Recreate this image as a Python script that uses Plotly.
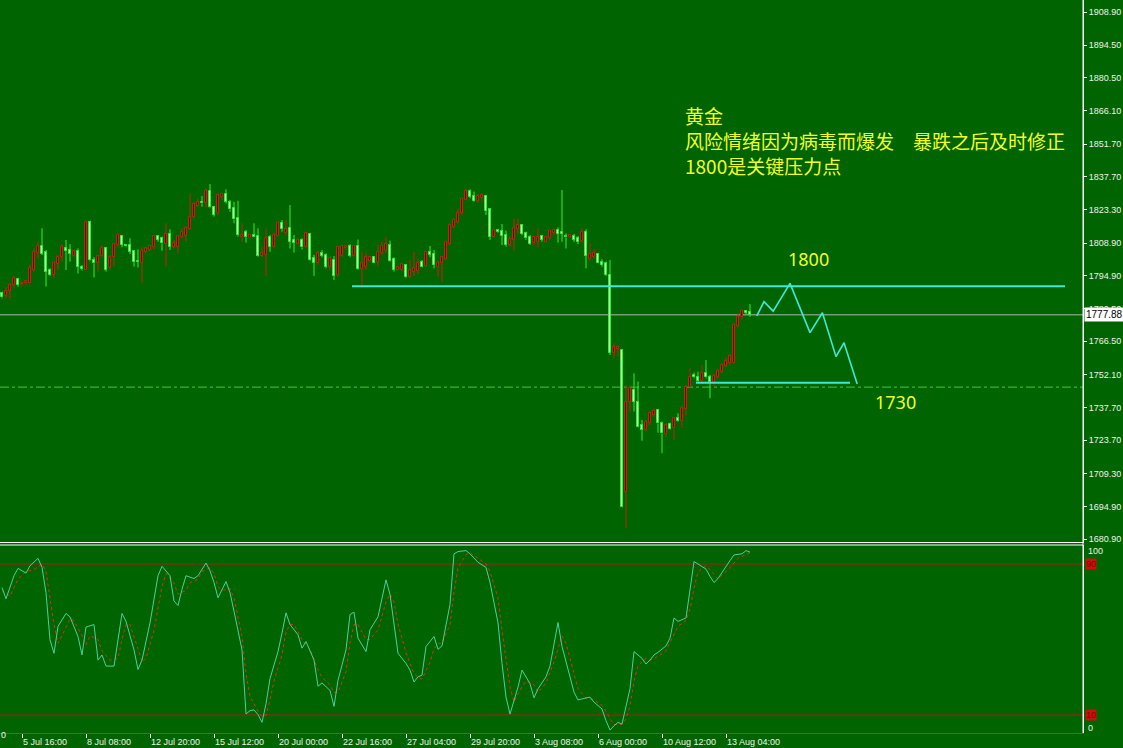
import plotly.graph_objects as go

# ---------------- data (H4 gold bars, bar index 0..187) ----------------
open_ = [1787.5,1786.0,1788.3,1790.8,1793.2,1791.2,1791.5,1791.5,1797.3,1804.5,
         1807.7,1805.2,1797.3,1795.1,1799.9,1802.8,1806.6,1805.9,1803.3,1805.6,
         1798.7,1797.3,1817.9,1801.6,1800.2,1803.3,1806.6,1798.0,1802.8,1808.1,
         1812.1,1808.1,1808.1,1805.6,1801.3,1800.4,1805.2,1805.9,1807.1,1812.0,
         1811.0,1808.5,1812.9,1807.4,1807.4,1811.7,1812.0,1814.9,1820.4,1825.0,
         1826.8,1826.1,1831.6,1824.4,1821.8,1828.7,1830.2,1826.8,1824.0,1819.6,
         1811.7,1813.9,1811.0,1812.4,1812.0,1803.3,1803.8,1811.7,1807.1,1812.0,
         1817.5,1813.1,1815.3,1810.3,1808.5,1810.3,1807.1,1812.9,1802.3,1800.2,
         1804.8,1803.8,1798.7,1801.6,1795.1,1803.3,1806.6,1807.7,1803.3,1807.7,
         1797.6,1798.4,1801.3,1802.8,1800.9,1804.5,1805.9,1808.1,1801.9,1797.3,
         1797.3,1799.4,1794.4,1796.6,1797.0,1800.9,1799.0,1805.2,1804.2,1798.7,
         1800.2,1801.9,1808.5,1816.0,1818.2,1821.8,1827.6,1831.6,1829.3,1827.3,
         1828.3,1829.3,1823.5,1811.7,1814.6,1814.3,1812.4,1808.1,1810.3,1814.9,
         1816.7,1813.1,1811.7,1808.8,1809.5,1812.0,1809.5,1811.0,1813.1,1814.6,
         1813.9,1812.0,1811.4,1812.0,1811.0,1810.0,1813.9,1801.9,1803.0,1804.2,
         1800.9,1800.2,1795.1,1761.2,1762.9,1762.7,1701.4,1740.3,1745.4,1740.3,
         1730.2,1728.1,1731.2,1734.5,1736.7,1730.9,1726.3,1730.7,1728.8,1733.1,
         1732.1,1737.0,1746.5,1751.9,1751.1,1749.4,1752.9,1751.1,1749.0,1751.1,
         1753.3,1755.7,1756.9,1756.9,1773.0,1776.8,1779.5,1779.3]
high = [1787.9,1789.8,1791.5,1794.7,1793.7,1792.2,1793.0,1799.7,1806.6,1809.5,
        1815.3,1805.9,1798.0,1800.9,1803.8,1808.5,1810.3,1808.5,1805.9,1806.6,
        1799.4,1818.2,1818.6,1802.8,1803.8,1808.1,1807.1,1803.8,1808.8,1812.9,
        1812.4,1808.5,1811.0,1805.9,1806.2,1807.1,1807.1,1808.1,1812.4,1812.4,
        1811.7,1817.5,1814.9,1810.3,1812.4,1815.3,1816.3,1830.4,1826.8,1828.3,
        1829.3,1832.6,1834.5,1825.0,1830.4,1830.7,1832.2,1827.6,1826.8,1827.3,
        1817.5,1814.6,1812.9,1817.5,1815.3,1807.4,1815.3,1812.4,1813.1,1818.2,
        1818.9,1819.2,1825.4,1812.4,1811.0,1811.0,1813.9,1813.1,1803.8,1805.6,
        1805.9,1804.5,1802.8,1803.3,1807.7,1808.1,1808.1,1808.5,1808.1,1810.5,
        1805.2,1804.8,1803.3,1803.3,1808.1,1809.5,1811.7,1810.0,1802.8,1798.7,
        1800.4,1799.9,1801.6,1805.2,1802.3,1801.6,1805.6,1807.7,1805.9,1801.3,
        1803.3,1810.0,1817.5,1819.6,1824.0,1828.7,1832.6,1832.2,1831.2,1830.2,
        1830.4,1829.7,1824.0,1814.9,1814.9,1817.2,1814.3,1811.7,1819.6,1819.6,
        1817.2,1813.9,1812.4,1812.0,1815.3,1812.4,1812.0,1814.6,1815.3,1815.7,
        1831.9,1813.1,1812.9,1812.9,1812.0,1815.3,1814.9,1808.5,1806.2,1804.5,
        1801.9,1800.9,1801.6,1765.6,1764.8,1762.9,1747.5,1747.5,1752.6,1749.0,
        1732.4,1732.4,1736.0,1737.4,1737.0,1731.7,1730.9,1731.2,1733.8,1735.3,
        1738.2,1747.5,1754.7,1752.9,1753.3,1756.2,1758.3,1751.9,1752.3,1754.3,
        1756.9,1759.8,1760.9,1774.2,1778.5,1780.3,1780.0,1782.6]
low = [1785.0,1784.6,1784.6,1789.3,1790.1,1790.1,1790.8,1791.2,1796.6,1802.3,
       1803.8,1790.1,1794.7,1793.7,1797.3,1800.9,1797.3,1800.9,1802.8,1795.8,
       1797.0,1797.0,1801.3,1794.1,1796.6,1802.8,1796.6,1797.3,1798.7,1807.4,
       1807.1,1807.1,1804.2,1798.7,1798.4,1791.5,1804.5,1805.2,1806.2,1809.5,
       1805.6,1798.7,1805.9,1806.6,1804.5,1811.0,1809.5,1814.6,1819.6,1824.7,
       1824.7,1824.4,1824.0,1820.4,1821.1,1827.6,1826.1,1822.5,1817.5,1811.7,
       1809.5,1809.1,1810.3,1811.7,1803.0,1802.8,1794.7,1805.2,1806.6,1811.7,
       1813.9,1812.4,1806.6,1804.8,1808.1,1806.2,1806.6,1801.3,1794.7,1799.4,
       1802.8,1798.0,1797.3,1792.9,1794.4,1802.8,1805.9,1802.8,1802.8,1797.3,
       1789.3,1797.3,1800.9,1800.2,1798.4,1803.8,1804.8,1800.9,1796.6,1797.0,
       1796.6,1793.7,1793.7,1794.7,1795.5,1798.4,1798.4,1802.8,1798.0,1794.4,
       1792.2,1801.6,1808.1,1815.3,1817.5,1821.1,1827.3,1828.3,1826.8,1826.4,
       1826.8,1821.1,1810.3,1811.4,1813.4,1808.1,1807.4,1807.1,1805.6,1813.1,
       1812.4,1810.3,1808.1,1808.1,1807.1,1809.5,1809.1,1810.3,1812.4,1809.1,
       1809.5,1806.6,1811.0,1809.5,1808.5,1809.1,1798.0,1801.3,1802.3,1800.2,
       1798.7,1794.7,1760.5,1759.1,1760.1,1694.6,1685.5,1736.0,1736.0,1729.2,
       1723.4,1727.3,1730.2,1733.8,1726.9,1718.0,1725.2,1728.1,1723.7,1731.7,
       1729.5,1734.5,1746.1,1750.4,1748.5,1748.5,1750.4,1741.8,1746.8,1750.4,
       1752.6,1755.2,1756.2,1756.6,1772.5,1775.9,1778.2,1777.1]
close = [1785.4,1788.3,1790.8,1793.7,1790.8,1791.8,1792.5,1798.0,1805.2,1807.7,
         1804.2,1796.6,1795.1,1800.2,1803.0,1807.1,1805.6,1804.2,1805.6,1798.7,
         1797.6,1817.9,1801.6,1800.2,1803.3,1806.6,1797.3,1803.0,1808.5,1812.4,
         1808.1,1807.5,1805.2,1800.9,1800.7,1805.6,1806.6,1807.7,1812.0,1810.3,
         1808.8,1812.9,1807.4,1808.8,1812.0,1813.9,1815.3,1820.4,1825.8,1826.8,
         1826.1,1831.6,1824.4,1821.1,1829.7,1830.2,1826.8,1823.5,1819.2,1812.4,
         1812.4,1811.7,1812.4,1811.7,1803.3,1804.8,1811.0,1807.4,1812.4,1817.5,
         1814.9,1814.9,1809.5,1809.1,1810.3,1807.1,1813.1,1801.6,1800.4,1804.8,
         1803.3,1798.7,1802.3,1794.7,1807.4,1807.7,1807.7,1803.3,1807.7,1797.6,
         1800.2,1802.8,1802.8,1800.4,1805.2,1807.7,1808.5,1801.3,1797.3,1798.4,
         1799.9,1794.1,1797.3,1798.0,1800.4,1798.7,1805.2,1803.8,1799.4,1800.4,
         1802.8,1809.5,1816.7,1818.9,1821.8,1827.9,1831.6,1829.0,1827.3,1829.3,
         1829.7,1823.0,1811.7,1814.6,1813.7,1812.0,1808.1,1810.5,1815.3,1816.7,
         1812.9,1811.0,1808.5,1811.4,1811.7,1810.3,1811.4,1814.3,1814.6,1812.9,
         1812.9,1811.4,1812.3,1810.3,1809.5,1813.9,1803.3,1804.2,1804.8,1800.4,
         1799.4,1795.1,1761.4,1763.8,1764.1,1694.9,1740.3,1746.1,1740.3,1729.5,
         1728.1,1731.7,1735.3,1736.4,1730.9,1726.6,1730.2,1728.3,1733.1,1732.1,
         1737.4,1746.8,1751.1,1750.8,1749.4,1752.9,1750.8,1749.0,1751.4,1753.7,
         1756.2,1758.1,1760.1,1773.5,1777.1,1779.7,1778.8,1777.88]

time_tick_bars = [5, 21, 37, 53, 69, 85, 101, 117, 133, 149, 165, 181]
time_tick_labels = ['5 Jul 16:00', '8 Jul 08:00', '12 Jul 20:00', '15 Jul 12:00',
                    '20 Jul 00:00', '22 Jul 16:00', '27 Jul 04:00', '29 Jul 20:00',
                    '3 Aug 08:00', '6 Aug 00:00', '10 Aug 12:00', '13 Aug 04:00']
price_ticks = [1908.90, 1894.50, 1880.50, 1866.10, 1851.70, 1837.70, 1823.30, 1808.90,
               1794.90, 1780.50, 1766.50, 1752.10, 1737.70, 1723.70, 1709.30, 1694.90, 1680.90]

# Stochastic oscillator (bar index, value)
stoch_main_bar = [0,1,3,4,6,7,9,10,11,12,13,14,16,17,19,20,21,23,24,25,26,28,29,30,31,33,34,35,37,39,
                  40,42,43,44,45,46,48,49,51,52,53,54,56,57,58,60,61,62,63,64,65,66,67,69,70,71,72,74,75,76,
                  78,79,80,82,83,84,86,87,88,89,91,92,94,96,97,98,99,101,102,103,104,105,106,108,109,110,112,113,114,116,
                  117,119,121,122,124,125,126,127,129,130,132,133,134,136,137,139,140,142,143,144,146,147,148,150,151,152,153,154,155,156,
                  157,158,160,161,162,163,164,166,167,168,169,171,172,173,174,176,177,178,179,181,182,183,185,186,187]
stoch_main = [77.5,71.6,83.8,87.7,85.2,89.1,93.0,88.2,74.8,49.8,42.7,57.0,63.8,62.0,51.6,41.8,56.6,57.9,39.1,41.8,35.9,35.9,49.8,63.8,59.6,44.5,34.1,39.1,58.8,83.8,
              88.8,83.8,70.4,68.0,76.6,83.8,82.3,83.8,90.5,86.4,80.2,72.1,80.7,74.8,65.0,44.5,10.5,12.3,12.7,10.2,6.1,15.9,29.3,43.6,53.4,64.1,57.9,52.5,45.4,48.9,
              39.1,25.2,27.0,23.0,14.6,28.4,44.5,63.2,64.5,50.7,43.6,55.2,62.0,81.6,73.9,58.8,42.7,37.3,33.8,27.5,30.2,31.1,46.3,51.6,44.8,46.6,68.6,95.4,96.6,97.1,
              95.4,90.9,88.2,80.2,58.8,37.3,19.5,10.5,24.8,33.8,26.6,19.1,23.9,30.2,36.0,59.0,46.3,30.2,22.1,18.0,19.1,19.5,16.8,13.2,7.0,2.0,4.3,6.1,5.2,15.0,
              23.9,43.6,40.0,37.0,39.1,41.8,43.2,46.6,50.7,61.4,59.6,61.4,77.5,91.3,90.0,87.3,83.4,80.2,82.3,88.2,91.8,94.8,95.4,97.1,96.3]
stoch_sig_bar = [0,2,4,6,8,10,11,12,13,14,15,17,18,20,21,22,24,25,27,29,30,31,32,34,35,36,38,40,41,43,
                 44,46,47,49,50,52,53,54,55,57,58,59,60,61,62,64,65,66,67,68,70,71,72,73,75,76,77,79,80,82,
                 83,84,86,87,88,89,91,92,94,96,97,98,99,101,102,103,104,105,107,108,109,110,112,113,114,116,117,119,121,122,
                 124,125,126,127,128,130,131,133,134,136,138,140,141,143,144,146,148,150,151,152,153,155,156,157,158,159,161,162,164,166,
                 168,169,171,172,173,174,176,177,179,180,182,184,186,187]
stoch_sig = [76,73,82,86,87,90,86,72,58,48,52,61,60,52,47,52,50,44,39,40,50,58,58,45,38,40,55,78,85,80,
             74,76,80,82,86,88,85,78,76,77,72,62,52,32,20,12,9,10,18,28,42,54,58,58,50,47,45,34,30,26,
             22,22,33,48,58,58,50,50,55,70,74,70,58,43,37,32,30,29,38,45,48,48,58,75,88,95,96,93,90,86,
             72,55,40,25,17,25,28,26,22,27,38,52,48,32,24,19,18,15,12,8,5,5,8,15,28,36,40,39,41,44,
             53,57,60,66,77,86,89,87,82,84,88,93,95,96]
stoch_levels = [90, 10]

# Drawing objects (bar index / price)
resist_bars = [87.5, 265.75]
resist_price = [1790.3, 1790.3]
support_bars = [173.5, 212.0]
support_price = [1748.5, 1748.5]
zigzag_bars = [188.7, 190.5, 192.8, 197.0, 202.0, 205.1, 208.5, 210.5, 213.8]
zigzag_price = [1777.4, 1783.6, 1779.5, 1791.5, 1770.2, 1778.8, 1759.8, 1765.8, 1748.0]
bid_price = 1777.88
dashdot_price = 1746.6

# ---------------- styling ----------------
BG = '#006400'
TXT = '#eef4ee'
UP_FILL, UP_LINE = '#5a1206', '#c8200e'
DN_FILL, DN_LINE = '#d8ffd0', '#2ef02e'
CYAN = '#3ee8d8'
YEL = '#f0ff28'
AXFONT = dict(family='Liberation Sans', size=9, color=TXT)

bars = list(range(len(close)))
is_up = [c >= o for o, c in zip(open_, close)]
body_base = [min(o, c) for o, c in zip(open_, close)]
body_h = [max(abs(c - o), 0.08) for o, c in zip(open_, close)]

fig = go.Figure()

# wicks (outside of the bodies)
for up, col in ((True, UP_LINE), (False, DN_LINE)):
    xs, ys = [], []
    for i in bars:
        if is_up[i] != up:
            continue
        top = max(open_[i], close[i]); bot = min(open_[i], close[i])
        xs += [i, i, None, i, i, None]
        ys += [high[i], top, None, bot, low[i], None]
    fig.add_trace(go.Scatter(x=xs, y=ys, mode='lines', line=dict(color=col, width=1),
                             hoverinfo='skip', xaxis='x', yaxis='y'))

fig.add_trace(go.Bar(x=bars, y=body_h, base=body_base, width=0.5,
                     marker=dict(color=[UP_FILL if u else DN_FILL for u in is_up],
                                 line=dict(color=[UP_LINE if u else DN_LINE for u in is_up], width=1)),
                     xaxis='x', yaxis='y', hoverinfo='skip'))

# drawings
fig.add_trace(go.Scatter(x=resist_bars, y=resist_price, mode='lines', line=dict(color=CYAN, width=2),
                         xaxis='x', yaxis='y', hoverinfo='skip'))
fig.add_trace(go.Scatter(x=support_bars, y=support_price, mode='lines', line=dict(color=CYAN, width=2),
                         xaxis='x', yaxis='y', hoverinfo='skip'))
fig.add_trace(go.Scatter(x=zigzag_bars, y=zigzag_price, mode='lines', line=dict(color=CYAN, width=1.6),
                         xaxis='x', yaxis='y', hoverinfo='skip'))

# stochastic
fig.add_trace(go.Scatter(x=stoch_sig_bar, y=stoch_sig, mode='lines',
                         line=dict(color='#e0301c', width=1, dash='dot'),
                         xaxis='x2', yaxis='y2', hoverinfo='skip'))
fig.add_trace(go.Scatter(x=stoch_main_bar, y=stoch_main, mode='lines',
                         line=dict(color='#4ccfa0', width=1),
                         xaxis='x2', yaxis='y2', hoverinfo='skip'))

XR = [-0.5, 270.25]
MAIN_DOM = [191 / 733, 1]
IND_DOM = [0, 188 / 733]

shapes = [
    dict(type='line', xref='paper', x0=0, x1=1, yref='y', y0=bid_price, y1=bid_price,
         line=dict(color='#b4b4b4', width=1), layer='below'),
    dict(type='line', xref='paper', x0=0, x1=1, yref='y', y0=dashdot_price, y1=dashdot_price,
         line=dict(color='#3cc83c', width=1, dash='dashdot'), layer='below'),
    dict(type='line', xref='paper', x0=0, x1=1, yref='paper', y0=IND_DOM[1], y1=IND_DOM[1],
         line=dict(color='#ffffff', width=1)),
    dict(type='line', xref='paper', x0=1, x1=1, yref='paper', y0=0, y1=1,
         line=dict(color='#ffffff', width=1)),
]
for lv in stoch_levels:
    shapes.append(dict(type='line', xref='paper', x0=0, x1=1, yref='y2', y0=lv, y1=lv,
                       line=dict(color='#b01c1c', width=1), layer='below'))

CJK = dict(family='Noto Sans CJK SC', size=19, color=YEL)
annotations = [
    dict(x=170.25, y=1864.3, xref='x', yref='y', text='黄金', showarrow=False, xanchor='left', font=CJK),
    dict(x=170.25, y=1853.1, xref='x', yref='y', text='风险情绪因为病毒而爆发\u3000暴跌之后及时修正',
         showarrow=False, xanchor='left', font=CJK),
    dict(x=170.25, y=1842.3, xref='x', yref='y', text='1800是关键压力点', showarrow=False,
         xanchor='left', font=CJK),
    dict(x=201.5, y=1802.0, xref='x', yref='y', text='1800', showarrow=False,
         font=dict(family='Noto Sans', size=18, color=YEL)),
    dict(x=223.25, y=1740.2, xref='x', yref='y', text='1730', showarrow=False,
         font=dict(family='Noto Sans', size=18, color=YEL)),
    dict(x=1, xref='paper', xanchor='left', xshift=1, y=bid_price, yref='y', text='1777.88',
         showarrow=False, bgcolor='#ffffff', width=37, align='left', borderpad=1,
         font=dict(family='Liberation Sans', size=10, color='#000000')),
    dict(x=1, xref='paper', xanchor='left', xshift=3, y=96.9, yref='y2', text='100',
         showarrow=False, font=AXFONT),
    dict(x=1, xref='paper', xanchor='left', xshift=3, y=3.1, yref='y2', text='0',
         showarrow=False, font=AXFONT),
    dict(x=0, xref='paper', xanchor='left', xshift=-1, y=-9 / 733, yref='paper', text='0',
         showarrow=False, font=AXFONT),
]
for lv in stoch_levels:
    annotations.append(dict(x=1, xref='paper', xanchor='left', xshift=2, y=lv, yref='y2',
                            text=str(lv), showarrow=False, bgcolor='#cc1010', borderpad=0,
                            font=dict(family='Liberation Sans', size=9, color='#8a0000')))

fig.update_layout(
    width=1123, height=748, margin=dict(l=0, r=40, t=0, b=15, autoexpand=False),
    paper_bgcolor=BG, plot_bgcolor=BG, showlegend=False,
    barmode='overlay', bargap=0,
    xaxis=dict(domain=[0, 1], range=XR, anchor='y', showticklabels=False, showgrid=False,
               zeroline=False, showline=True, linecolor='#ffffff', linewidth=1, ticks=''),
    yaxis=dict(domain=MAIN_DOM, range=[1679.60, 1914.09], side='right', anchor='x',
               tickvals=price_ticks, ticktext=[f'{v:.2f}' for v in price_ticks],
               ticks='outside', ticklen=3, tickcolor='#ffffff', showline=True, linecolor='#ffffff',
               showgrid=False, zeroline=False, tickfont=AXFONT),
    xaxis2=dict(domain=[0, 1], range=XR, anchor='y2', tickvals=time_tick_bars,
                ticktext=time_tick_labels, ticks='outside', ticklen=4, tickcolor='#ffffff',
                ticklabelposition='outside right', showline=True, linecolor='#e02424', linewidth=1,
                showgrid=False, zeroline=False, tickfont=AXFONT, tickangle=0),
    yaxis2=dict(domain=IND_DOM, range=[0.463, 100.07], side='right', anchor='x2',
                showticklabels=False, ticks='', showline=True, linecolor='#ffffff',
                showgrid=False, zeroline=False),
    shapes=shapes, annotations=annotations,
)

fig.write_html('out.html', config={'displayModeBar': False},
               post_script="document.body.style.margin='0';document.body.style.padding='0';"
                           "document.body.style.overflow='hidden';")
